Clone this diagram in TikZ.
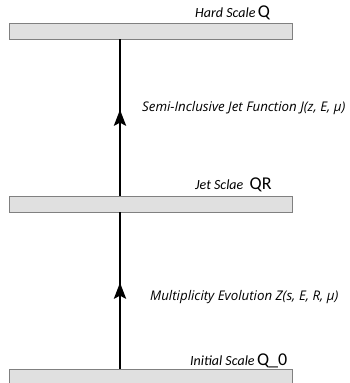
\documentclass[tikz,border=0pt]{standalone}
\usepackage{fontspec}
\setmainfont{Open Sans}
\newfontfamily\carlito{Carlito}
\newfontfamily\opensans{Open Sans}
\usetikzlibrary{arrows.meta,decorations.markings}
\begin{document}
\begin{tikzpicture}[x=1pt,y=1pt,
  scalebar/.style={draw=black!50,line width=0.9pt,fill=black!12,minimum width=283pt,minimum height=16pt,inner sep=0pt,outer sep=0pt},
  flow/.style={line width=2.8pt,postaction={decorate},decoration={markings,mark=at position 0.55 with {\arrow{Stealth[length=16pt,width=12pt,inset=3pt]}}}},
  scalelabel/.style={anchor=base west,inner sep=0pt,font=\carlito\itshape\fontsize{14}{16}\selectfont},
  proclabel/.style={anchor=west,inner sep=0pt,font=\opensans\itshape\fontsize{13.3}{15}\selectfont}
]
\useasboundingbox (0,0) rectangle (350,383);
\begin{scope}
\clip (0,0) rectangle (350,383);
\node[scalebar] (init) at (150.5,6) {};
\end{scope}
\node[scalebar] (jet) at (150.5,179) {};
\node[scalebar] (hard) at (150.5,352) {};
\draw[flow] (init.north -| 120,0) -- (jet.south -| 120,0);
\draw[flow] (jet.north -| 120,0) -- (hard.south -| 120,0);
\node[scalelabel] (lhard) at (195,365) {Hard Scale\,{\upshape\fontsize{18}{18}\selectfont Q}};
\node[scalelabel] (ljet) at (195,193) {Jet Sclae\ \ {\upshape\fontsize{18}{18}\selectfont QR}};
\node[scalelabel] (linit) at (190,17) {Initial Scale\,{\upshape\fontsize{18}{18}\selectfont Q\_0}};
\node[proclabel] (lsij) at (142,275) {Semi-Inclusive Jet Function J(z, E, μ)};
\node[proclabel] (lmult) at (150,86) {Multiplicity Evolution Z(s, E, R, μ)};
\end{tikzpicture}
\end{document}
